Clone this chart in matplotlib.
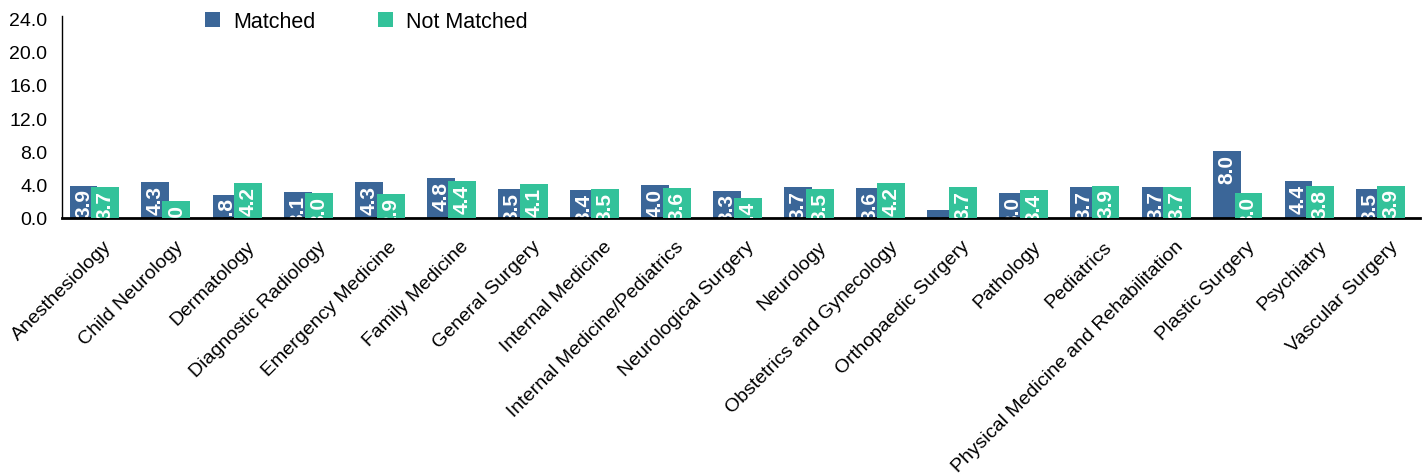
import matplotlib.pyplot as plt
import numpy as np

plt.rcParams['font.family'] = ['Liberation Sans', 'DejaVu Sans']

specialties = ['Anesthesiology', 'Child Neurology', 'Dermatology', 'Diagnostic Radiology',
               'Emergency Medicine', 'Family Medicine', 'General Surgery', 'Internal Medicine',
               'Internal Medicine/Pediatrics', 'Neurological Surgery', 'Neurology',
               'Obstetrics and Gynecology', 'Orthopaedic Surgery', 'Pathology', 'Pediatrics',
               'Physical Medicine and Rehabilitation', 'Plastic Surgery', 'Psychiatry',
               'Vascular Surgery']
matched = [3.9, 4.3, 2.8, 3.1, 4.3, 4.8, 3.5, 3.4, 4.0, 3.3, 3.7, 3.6, 1.0, 3.0, 3.7, 3.7, 8.0, 4.4, 3.5]
not_matched = [3.7, 2.0, 4.2, 3.0, 2.9, 4.4, 4.1, 3.5, 3.6, 2.4, 3.5, 4.2, 3.7, 3.4, 3.9, 3.7, 3.0, 3.8, 3.9]

c_m = '#3b6698'
c_nm = '#33c29a'

fig = plt.figure(figsize=(14.27, 4.77), dpi=100)
ax = fig.add_axes([0.0435, 0.5409, 0.9516, 0.4235])

x = np.arange(len(specialties))
w = 0.39
b1 = ax.bar(x - 0.2, matched, w, color=c_m, label='Matched', zorder=2)
b2 = ax.bar(x + 0.1, not_matched, w, color=c_nm, label='Not Matched', zorder=3)

for bars, vals, z in [(b1, matched, 2.5), (b2, not_matched, 3.5)]:
    for r, v in zip(bars, vals):
        ax.annotate(f'{v:.1f}', (r.get_x() + r.get_width() / 2, v), xytext=(0, -2),
                    textcoords='offset points', rotation=90, ha='center', va='top',
                    color='white', fontsize=15, fontweight='bold',
                    annotation_clip=False, clip_on=True, zorder=z)

ax.set_xlim(-0.5, len(specialties) - 0.5)
ax.set_ylim(0, 24.3)
ax.set_yticks(np.arange(0, 24.1, 4))
ax.set_yticklabels([f'{t:.1f}' for t in np.arange(0, 24.1, 4)], fontsize=14)
# labels sit a little right of the group centre in the original
ax.set_xticks(x + 0.07)
ax.set_xticklabels(specialties, rotation=45, ha='right', rotation_mode='anchor', fontsize=14)
ax.tick_params(axis='y', length=0, pad=10.5)
ax.tick_params(axis='x', length=0, pad=14)
ax.spines['top'].set_visible(False)
ax.spines['right'].set_visible(False)
ax.spines['left'].set_linewidth(1)
ax.spines['bottom'].set_linewidth(2)

fig.legend(handles=[b1, b2], loc='upper left', bbox_to_anchor=(205 / 1427, 1 - 12 / 477),
           bbox_transform=fig.transFigure, ncol=2, frameon=False, fontsize=15.5,
           borderpad=0, borderaxespad=0, handlelength=0.7, handleheight=0.7,
           handletextpad=0.6, columnspacing=2.9)

fig.savefig('out.png', dpi=100)
